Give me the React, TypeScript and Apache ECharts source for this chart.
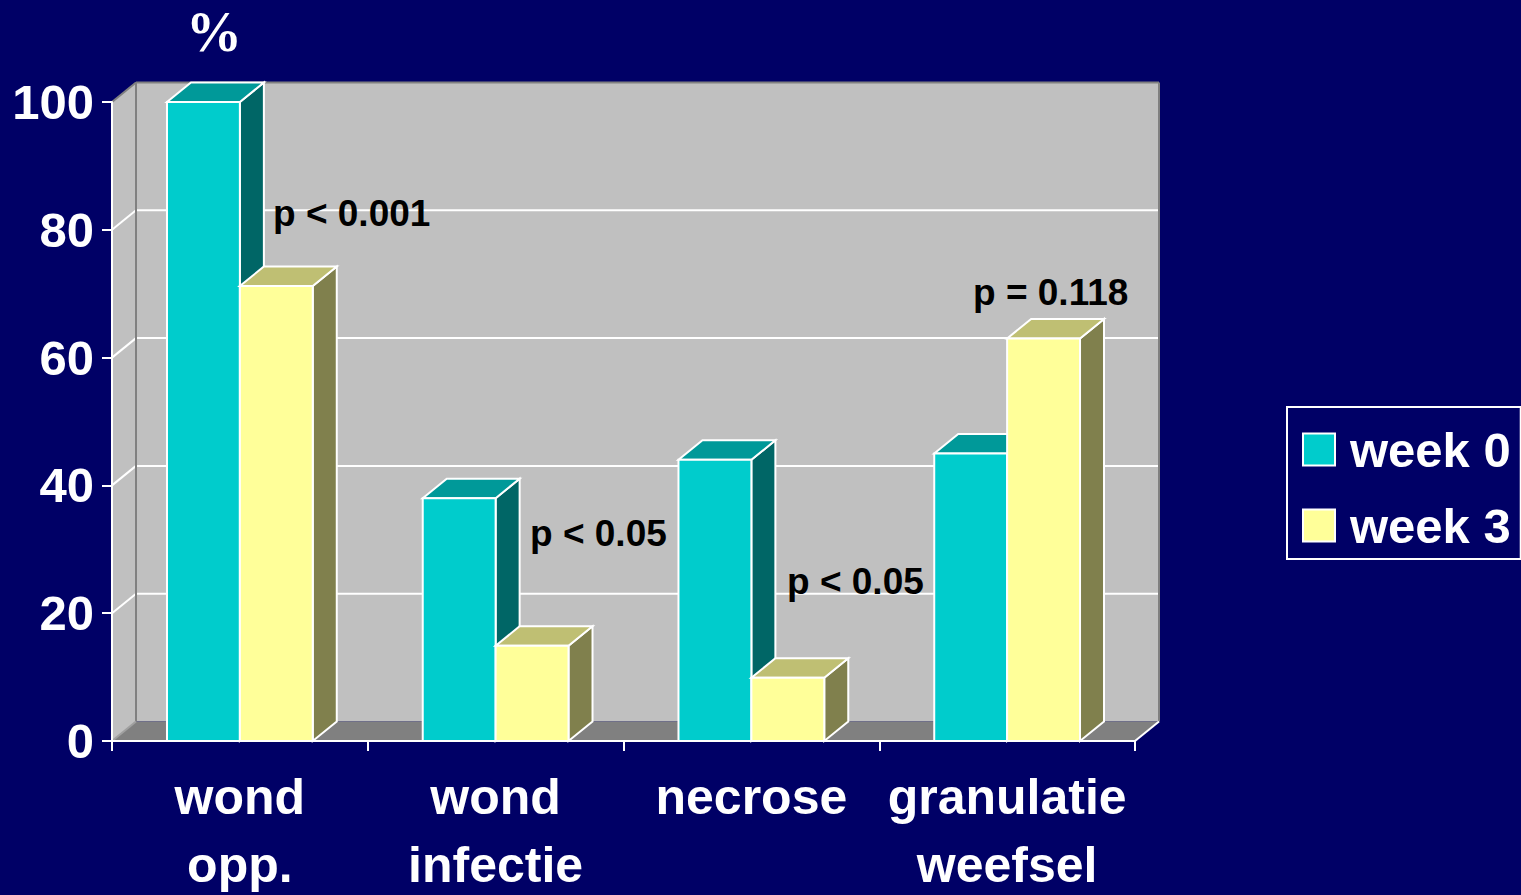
import React, { useEffect, useRef } from "react";
import * as echarts from "echarts";

const categories = ["wond\nopp.", "wond\ninfectie", "necrose", "granulatie\nweefsel"];
const week0 = [100, 38, 44, 45];
const week3 = [71.2, 14.9, 9.9, 63];
const seriesNames = ["week 0", "week 3"];
const yTicks = [0, 20, 40, 60, 80, 100];
const pLabels = [
  { text: "p < 0.001", x: 273, y: 213 },
  { text: "p < 0.05", x: 530, y: 533 },
  { text: "p < 0.05", x: 787, y: 581 },
  { text: "p = 0.118", x: 973, y: 292 },
];

const NAVY = "#000066";
const WHITE = "#ffffff";
const SANS = "'Liberation Sans', Arial, sans-serif";
const DEPTH_X = 24;
const DEPTH_Y = -19.5;
const BAR_SHARE = 0.285;

const palette = [
  { front: "#00cccc", top: "#009999", side: "#006666" },
  { front: "#ffff99", top: "#bfbf73", side: "#80804d" },
];

// Back wall, side wall, floor and gridlines of the 3D box.
function renderBox(params: any, api: any) {
  const sys = params.coordSys;
  const left = sys.x;
  const right = sys.x + sys.width;
  const top = sys.y;
  const bottom = sys.y + sys.height;
  const poly = (points: number[][], fill: string) => ({
    type: "polygon",
    shape: { points },
    style: { fill, stroke: null },
  });
  const line = (a: number[], b: number[], color: string) => ({
    type: "line",
    shape: { x1: a[0], y1: a[1], x2: b[0], y2: b[1] },
    style: { stroke: color, lineWidth: 2 },
  });
  const children: any[] = [
    poly(
      [[left + DEPTH_X, top + DEPTH_Y], [right + DEPTH_X, top + DEPTH_Y], [right + DEPTH_X, bottom + DEPTH_Y], [left + DEPTH_X, bottom + DEPTH_Y]],
      "#c0c0c0"
    ),
    poly([[left, top], [left + DEPTH_X, top + DEPTH_Y], [left + DEPTH_X, bottom + DEPTH_Y], [left, bottom]], "#c0c0c0"),
    poly([[left, bottom], [left + DEPTH_X, bottom + DEPTH_Y], [right + DEPTH_X, bottom + DEPTH_Y], [right, bottom]], "#808080"),
  ];
  yTicks
    .filter((v) => v > 0 && v < 100)
    .forEach((v) => {
      const y = api.coord([0, v])[1];
      children.push(line([left, y], [left + DEPTH_X, y + DEPTH_Y], WHITE));
      children.push(line([left + DEPTH_X, y + DEPTH_Y], [right + DEPTH_X, y + DEPTH_Y], WHITE));
    });
  children.push(line([left, top], [left + DEPTH_X, top + DEPTH_Y], "#808080"));
  children.push(line([left + DEPTH_X, top + DEPTH_Y], [right + DEPTH_X, top + DEPTH_Y], "#808080"));
  children.push(line([left + DEPTH_X, top + DEPTH_Y], [left + DEPTH_X, bottom + DEPTH_Y], "#808080"));
  children.push(line([right + DEPTH_X, top + DEPTH_Y], [right + DEPTH_X, bottom + DEPTH_Y], "#808080"));
  children.push(line([left, bottom], [left + DEPTH_X, bottom + DEPTH_Y], "#a0a0a0"));
  children.push(line([right, bottom], [right + DEPTH_X, bottom + DEPTH_Y], WHITE));
  return { type: "group", children };
}

// One extruded bar: side, top and front faces with white edges.
function renderBar(slot: number) {
  return (_params: any, api: any) => {
    const center = api.coord([api.value(0), 0])[0];
    const width = api.size([1, 0])[0] * BAR_SHARE;
    const base = api.coord([0, 0])[1];
    const head = api.coord([0, api.value(1)])[1];
    const x0 = center + (slot - 1) * width;
    const x1 = x0 + width;
    const colors = palette[slot];
    const face = (points: number[][], fill: string) => ({
      type: "polygon",
      shape: { points },
      style: { fill, stroke: WHITE, lineWidth: 2, lineJoin: "miter" },
    });
    return {
      type: "group",
      children: [
        face([[x1, head], [x1 + DEPTH_X, head + DEPTH_Y], [x1 + DEPTH_X, base + DEPTH_Y], [x1, base]], colors.side),
        face([[x0, head], [x0 + DEPTH_X, head + DEPTH_Y], [x1 + DEPTH_X, head + DEPTH_Y], [x1, head]], colors.top),
        face([[x0, head], [x1, head], [x1, base], [x0, base]], colors.front),
      ],
    };
  };
}

export default function App() {
  const ref = useRef<HTMLDivElement>(null);

  useEffect(() => {
    const chart = echarts.init(ref.current!, null, { renderer: "svg" });
    const toRows = (values: number[]) => values.map((v, i) => [i, v]);
    chart.setOption({
      animation: false,
      backgroundColor: NAVY,
      grid: { left: 112, top: 102, width: 1023, height: 639, outerBoundsMode: "none" },
      xAxis: {
        type: "category",
        data: categories,
        z: 5,
        axisLine: { lineStyle: { color: WHITE, width: 2 } },
        axisTick: { show: true, alignWithLabel: false, length: 10, lineStyle: { color: WHITE, width: 2 } },
        axisLabel: {
          interval: 0,
          color: WHITE,
          fontFamily: SANS,
          fontWeight: "bold",
          fontSize: 50,
          lineHeight: 68,
          margin: 22,
        },
        splitLine: { show: false },
      },
      yAxis: {
        type: "value",
        min: 0,
        max: 100,
        interval: 20,
        z: 5,
        axisLine: { show: true, lineStyle: { color: WHITE, width: 2 } },
        axisTick: { show: true, length: 10, lineStyle: { color: WHITE, width: 2 } },
        axisLabel: {
          color: WHITE,
          fontFamily: SANS,
          fontWeight: "bold",
          fontSize: 49,
          margin: 18,
          padding: [0, 0, 3, 0],
        },
        splitLine: { show: false },
      },
      legend: {
        left: 1287,
        top: 407,
        orient: "vertical",
        data: seriesNames,
        backgroundColor: NAVY,
        borderColor: WHITE,
        borderWidth: 2,
        borderRadius: 0,
        padding: [18, 10, 9, 15],
        itemGap: 27,
        itemWidth: 32,
        itemHeight: 32,
        icon: "rect",
        itemStyle: { borderColor: WHITE, borderWidth: 2 },
        textStyle: {
          color: WHITE,
          fontFamily: SANS,
          fontWeight: "bold",
          fontSize: 49,
          lineHeight: 33,
          padding: [0, 0, 0, 10],
        },
      },
      graphic: [
        {
          type: "text",
          x: 214,
          y: 32,
          z: 20,
          style: {
            text: "%",
            fill: WHITE,
            font: "bold 56px 'Liberation Serif', 'Times New Roman', serif",
            align: "center",
            verticalAlign: "middle",
          },
        },
        ...pLabels.map((p) => ({
          type: "text",
          x: p.x,
          y: p.y,
          z: 20,
          style: {
            text: p.text,
            fill: "#000000",
            font: `bold 37px ${SANS}`,
            align: "left",
            verticalAlign: "middle",
          },
        })),
      ],
      series: [
        {
          type: "custom",
          coordinateSystem: "cartesian2d",
          clip: false,
          silent: true,
          z: 1,
          data: [[0, 0]],
          renderItem: renderBox,
        },
        {
          type: "custom",
          name: seriesNames[0],
          coordinateSystem: "cartesian2d",
          clip: false,
          z: 2,
          itemStyle: { color: palette[0].front },
          encode: { x: 0, y: 1 },
          data: toRows(week0),
          renderItem: renderBar(0),
        },
        {
          type: "custom",
          name: seriesNames[1],
          coordinateSystem: "cartesian2d",
          clip: false,
          z: 3,
          itemStyle: { color: palette[1].front },
          encode: { x: 0, y: 1 },
          data: toRows(week3),
          renderItem: renderBar(1),
        },
      ],
    });
    return () => chart.dispose();
  }, []);

  return <div ref={ref} style={{ position: "fixed", left: 0, top: 0, width: 1521, height: 895 }} />;
}
